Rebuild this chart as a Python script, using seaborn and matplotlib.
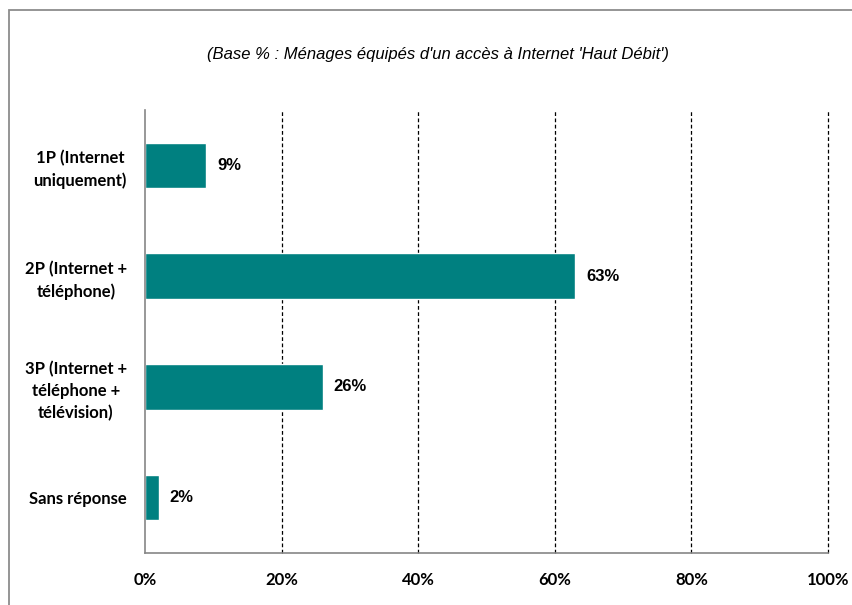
import matplotlib
matplotlib.use("Agg")
import matplotlib.pyplot as plt
import seaborn as sns
import pandas as pd
from matplotlib.patches import Rectangle
from matplotlib.ticker import PercentFormatter

categories = ["1P (Internet\nuniquement)", "2P (Internet +\ntéléphone)",
              "3P (Internet +\ntéléphone +\ntélévision)", "Sans réponse"]
values = [9, 63, 26, 2]
value_labels = ["9%", "63%", "26%", "2%"]
x_ticks = [0, 20, 40, 60, 80, 100]
subtitle = "(Base % : Ménages équipés d'un accès à Internet 'Haut Débit')"

df = pd.DataFrame({"categorie": categories, "valeur": values})

sns.set_style("white")
plt.rcParams["font.family"] = ["Lato", "DejaVu Sans"]
plt.rcParams["text.color"] = "black"
plt.rcParams["xtick.labelcolor"] = "black"
plt.rcParams["ytick.labelcolor"] = "black"

fig = plt.figure(figsize=(8.53, 6.05), dpi=100)
ax = fig.add_axes([145 / 853, 1 - 553 / 605, (828 - 145) / 853, (553 - 110) / 605])

# cadre gris du graphique (coupé à droite et en bas)
fig.patches.append(Rectangle((9 / 853, -0.1), 1.2, 1 - 10 / 605 + 0.1,
                             transform=fig.transFigure, fill=False,
                             edgecolor="#8c8c8c", linewidth=1.3))

sns.barplot(data=df, x="valeur", y="categorie", color="#008080", width=0.41,
            saturation=1, ax=ax, orient="h")

ax.set_xlim(0, 100)
ax.set_ylim(3.5, -0.5)
ax.set_xticks(x_ticks)
ax.xaxis.set_major_formatter(PercentFormatter(decimals=0))
ax.set_xlabel("")
ax.set_ylabel("")

# quadrillage vertical en pointillés
for x in x_ticks[1:]:
    ax.axvline(x, color="black", linestyle=(0, (3, 2)), linewidth=0.9,
               zorder=0, clip_on=False)

for side in ["top", "right"]:
    ax.spines[side].set_visible(False)
for side in ["left", "bottom"]:
    ax.spines[side].set_color("#868686")
    ax.spines[side].set_linewidth(1.2)

ax.set_yticks([-0.5, 0.5, 1.5, 2.5, 3.5], minor=True)
ax.tick_params(axis="y", which="major", length=0, pad=13)
ax.tick_params(axis="y", which="minor", length=5, color="#868686", width=1.2)
ax.tick_params(axis="x", length=5, color="#868686", width=1.2, pad=9)
for lab in ax.get_yticklabels():
    lab.set_multialignment("center")
    lab.set_linespacing(1.45)
    lab.set_fontweight("bold")
    lab.set_fontsize(12)
for lab in ax.get_xticklabels():
    lab.set_fontweight("bold")
    lab.set_fontsize(12)

labels = ax.bar_label(ax.containers[0], labels=value_labels, padding=8)
for t in labels:
    t.set_fontfamily(["Liberation Sans", "DejaVu Sans"])
    t.set_fontweight("bold")
    t.set_fontsize(12)
    t.set_color("black")

fig.text(438 / 853, 1 - 55 / 605, subtitle, ha="center", va="center",
         fontsize=12, style="italic", family=["Liberation Sans", "DejaVu Sans"])

fig.savefig("out.png", dpi=100)
